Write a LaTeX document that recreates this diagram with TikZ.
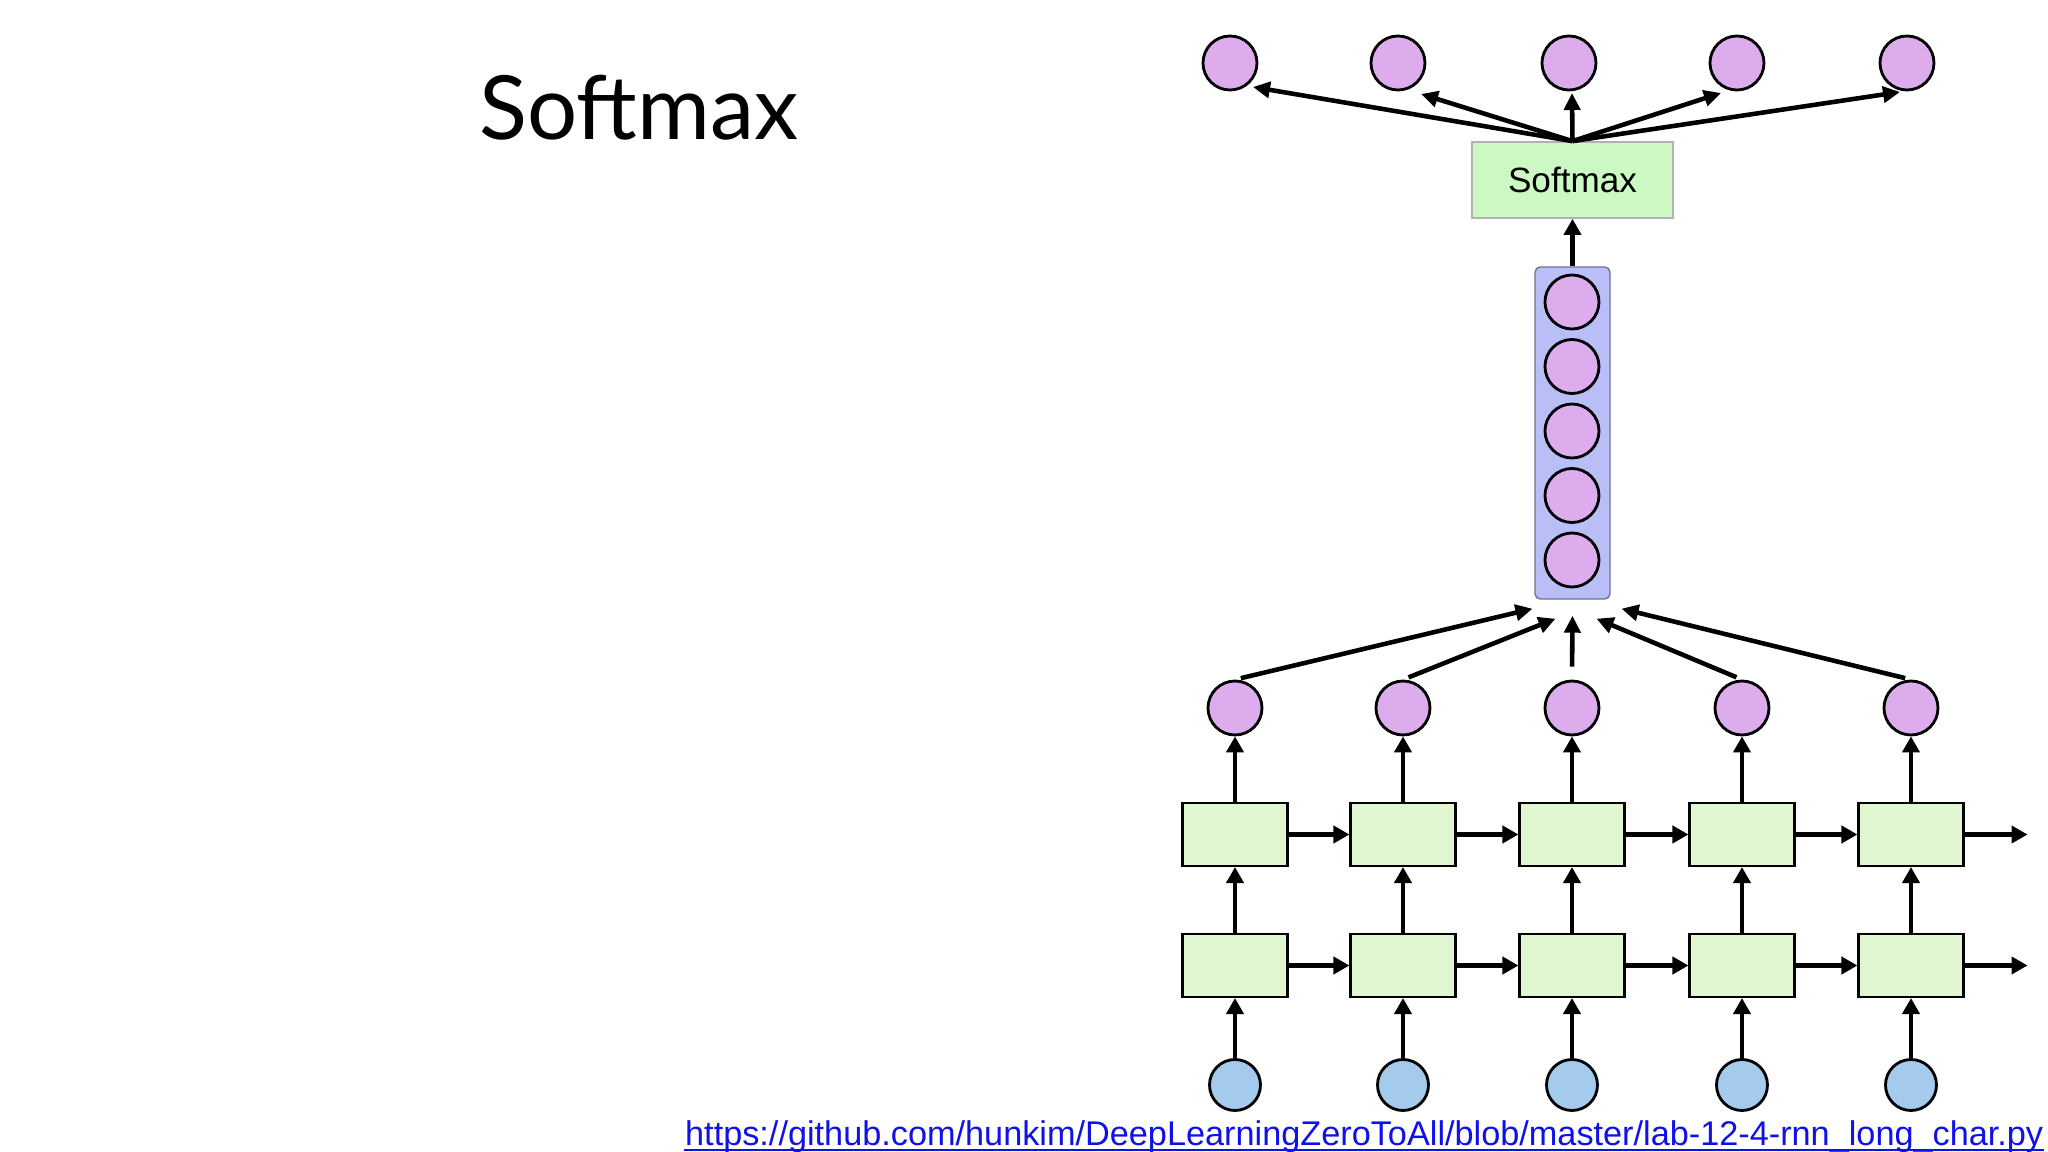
\documentclass[tikz,border=0pt]{standalone}
\usepackage{fontspec}
\setmainfont{Liberation Sans}
\newfontfamily\titlefont{Lato}
\usetikzlibrary{arrows.meta, positioning}
\definecolor{outpurple}{RGB}{220,172,236}
\definecolor{inblue}{RGB}{164,202,236}
\definecolor{cellgreen}{RGB}{224,246,208}
\definecolor{smgreen}{RGB}{204,248,196}
\definecolor{stackblue}{RGB}{186,190,246}
\definecolor{linkblue}{RGB}{16,16,232}
\tikzset{
  titl/.style  ={font=\titlefont\fontsize{25.2}{30}\selectfont, inner sep=0pt},
  outv/.style  ={draw, circle, minimum size=5.4mm, inner sep=0pt,
                 fill=outpurple, line width=0.8pt},
  inv/.style   ={draw, circle, minimum size=5.1mm, inner sep=0pt,
                 fill=inblue, line width=0.8pt},
  cell/.style  ={draw, rectangle, minimum width=10.5mm, minimum height=6.3mm,
                 fill=cellgreen, line width=0.6pt},
  smbox/.style ={draw=black!30, rectangle, minimum width=20.1mm,
                 minimum height=7.6mm, fill=smgreen, line width=0.5pt,
                 font=\fontsize{10}{12}\selectfont},
  % the column that holds the hidden state
  stk/.style   ={draw=stackblue!60!black, rectangle, rounded corners=1.5pt,
                 minimum width=7.5mm, minimum height=33.2mm,
                 fill=stackblue, line width=0.4pt},
  arr/.style   ={-{Triangle[length=1.6mm, width=1.7mm]}, line width=1.2pt},
  fan/.style   ={-{Triangle[length=1.7mm, width=1.6mm]}, line width=1.3pt},
  lnk/.style   ={font=\fontsize{9.75}{11}\selectfont, text=linkblue, inner sep=0pt},
}
\begin{document}
\begin{tikzpicture}
  \useasboundingbox (0,0) rectangle (20.48,-11.52);
  \node[titl, anchor=base west] (ttl) at (4.79,-1.40) {Softmax};
  \node[outv] (o1) at (12.30,-0.63) {};
  \node[outv] (o2) at (13.98,-0.63) {};
  \node[outv] (o3) at (15.69,-0.63) {};
  \node[outv] (o4) at (17.37,-0.63) {};
  \node[outv] (o5) at (19.07,-0.63) {};
  \node[smbox] (sm) at (15.725,-1.80) {Softmax};
  \node[stk] (stk) at (15.725,-4.33) {};
  \node[outv] (s1) at (15.72,-3.02) {};
  \node[outv] (s2) at (15.72,-3.665) {};
  \node[outv] (s3) at (15.72,-4.31) {};
  \node[outv] (s4) at (15.72,-4.955) {};
  \node[outv] (s5) at (15.72,-5.60) {};
  \node[outv] (h1) at (12.35,-7.08) {};
  \node[outv] (h2) at (14.03,-7.08) {};
  \node[outv] (h3) at (15.72,-7.08) {};
  \node[outv] (h4) at (17.42,-7.08) {};
  \node[outv] (h5) at (19.11,-7.08) {};
  \node[cell] (a1) at (12.35,-8.345) {};
  \node[cell] (a2) at (14.03,-8.345) {};
  \node[cell] (a3) at (15.72,-8.345) {};
  \node[cell] (a4) at (17.42,-8.345) {};
  \node[cell] (a5) at (19.11,-8.345) {};
  \node[cell] (b1) at (12.35,-9.655) {};
  \node[cell] (b2) at (14.03,-9.655) {};
  \node[cell] (b3) at (15.72,-9.655) {};
  \node[cell] (b4) at (17.42,-9.655) {};
  \node[cell] (b5) at (19.11,-9.655) {};
  \node[inv] (x1) at (12.35,-10.85) {};
  \node[inv] (x2) at (14.03,-10.85) {};
  \node[inv] (x3) at (15.72,-10.85) {};
  \node[inv] (x4) at (17.42,-10.85) {};
  \node[inv] (x5) at (19.11,-10.85) {};
  \coordinate[right=6.3mm of a5] (ea);
  \coordinate[right=6.3mm of b5] (eb);
  \coordinate (t1) at ([shift={(-0.40,-0.09)}]stk.south);
  \coordinate (t2) at ([shift={(-0.17,-0.19)}]stk.south);
  \coordinate (t3) at ([shift={(0,-0.16)}]stk.south);
  \coordinate (t4) at ([shift={(0.24,-0.19)}]stk.south);
  \coordinate (t5) at ([shift={(0.49,-0.09)}]stk.south);
  \coordinate (p1) at ([shift={(0.23,-0.24)}]o1);
  \coordinate (p2) at ([shift={(0.23,-0.31)}]o2);
  \coordinate (p3) at ([shift={(0.03,-0.30)}]o3);
  \coordinate (p4) at ([shift={(-0.16,-0.30)}]o4);
  \coordinate (p5) at ([shift={(-0.07,-0.29)}]o5);
  \draw[arr] (x1) edge (b1) (b1) edge (a1) (a1) edge (h1);
  \draw[arr] (x2) edge (b2) (b2) edge (a2) (a2) edge (h2);
  \draw[arr] (x3) edge (b3) (b3) edge (a3) (a3) edge (h3);
  \draw[arr] (x4) edge (b4) (b4) edge (a4) (a4) edge (h4);
  \draw[arr] (x5) edge (b5) (b5) edge (a5) (a5) edge (h5);
  \draw[arr] (a1) edge (a2) (a2) edge (a3) (a3) edge (a4) (a4) edge (a5) (a5) edge (ea);
  \draw[arr] (b1) edge (b2) (b2) edge (b3) (b3) edge (b4) (b4) edge (b5) (b5) edge (eb);
  \draw[fan, shorten <=0.6mm] (h1.north) -- (t1);
  \draw[fan, shorten <=0.6mm] (h2.north) -- (t2);
  \draw[fan, shorten <=1.3mm] (h3.north) -- (t3);
  \draw[fan, shorten <=0.6mm] (h4.north) -- (t4);
  \draw[fan, shorten <=0.6mm] (h5.north) -- (t5);
  \draw[arr] (stk) -- (sm);
  \draw[fan] (sm.north) -- (p1);
  \draw[fan] (sm.north) -- (p2);
  \draw[fan] (sm.north) -- (p3);
  \draw[fan] (sm.north) -- (p4);
  \draw[fan] (sm.north) -- (p5);
  \node[lnk, anchor=base east] (url) at (20.44,-11.45)
    {https://github.com/hunkim/DeepLearningZeroToAll/blob/master/lab-12-4-rnn\_long\_char.py};
  \draw[linkblue, line width=0.6pt] ([yshift=-1.3pt]url.base west) -- ([yshift=-1.3pt]url.base east);
\end{tikzpicture}
\end{document}
